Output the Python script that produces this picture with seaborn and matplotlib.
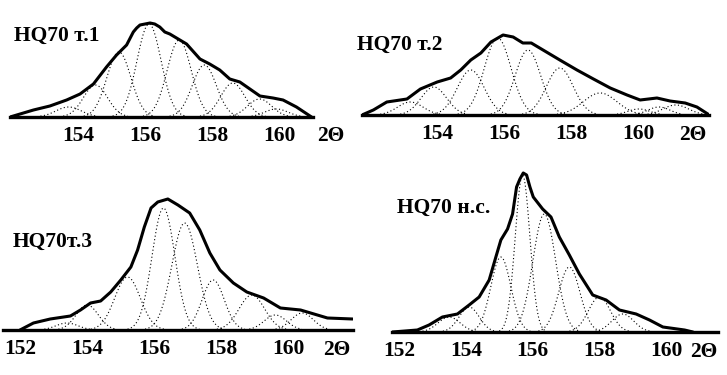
import numpy as np
import pandas as pd
import matplotlib
matplotlib.use("Agg")
import matplotlib.pyplot as plt
import seaborn as sns

# ---------- data, intensity in arbitrary units ----------
# panel 1: HQ70 т.1
p1_x = [151.95, 152.25, 152.65, 153.14, 153.64, 154.04, 154.44, 154.83, 155.13, 155.43,
        155.63, 155.73, 155.83, 155.98, 156.13, 156.27, 156.42, 156.57, 156.72, 156.92,
        157.22, 157.62, 157.91, 158.21, 158.51, 158.81, 159.11, 159.41, 159.80, 160.10,
        160.50, 160.95]
p1_y = [0, 3, 7, 11, 17, 23, 33, 50, 62, 72, 85, 89, 92, 93, 94, 93, 90, 85, 83, 79,
        73, 58, 53, 47, 38, 35, 28, 21, 19, 17, 10, 0]
p1_c = [153.7, 154.5, 155.2, 156.1, 157.0, 157.75, 158.6, 159.4, 159.9]
p1_h = [10, 32, 65, 93, 77, 52, 34, 18, 8]
p1_w = [0.38, 0.36, 0.36, 0.36, 0.36, 0.36, 0.36, 0.36, 0.35]

# panel 2: HQ70 т.2
p2_x = [151.76, 152.1, 152.5, 153.1, 153.5, 154.0, 154.4, 154.7, 155.0, 155.3,
        155.6, 155.96, 156.26, 156.55, 156.8, 157.15, 157.65, 158.16, 158.65, 159.15,
        159.65, 160.04, 160.54, 160.93, 161.38, 161.73, 162.1]
p2_y = [0, 5, 13, 16, 26, 33, 37, 45, 55, 62, 73, 80, 78, 72, 72, 65, 55, 45, 36, 27,
        20, 15, 17, 14, 12, 8, 0]
p2_c = [153.2, 153.9, 155.0, 155.8, 156.7, 157.65, 158.85, 160.0, 160.6, 161.1]
p2_h = [13, 28, 45, 77, 65, 47, 22, 6, 8, 10]
p2_w = [0.38, 0.38, 0.4, 0.4, 0.38, 0.4, 0.5, 0.33, 0.33, 0.38]

# panel 3: HQ70т.3
p3_x = [152.0, 152.4, 152.9, 153.5, 153.8, 154.1, 154.4, 154.7, 155.0, 155.3,
        155.5, 155.7, 155.9, 156.1, 156.4, 156.7, 157.05, 157.35, 157.65, 157.95,
        158.35, 158.75, 159.25, 159.75, 160.35, 160.85, 161.15, 161.9]
p3_y = [0, 7, 11, 14, 20, 27, 29, 38, 50, 63, 80, 103, 122, 128, 131, 125, 117, 100,
        77, 60, 47, 38, 32, 22, 20, 15, 12, 11]
p3_c = [153.4, 154.0, 155.2, 156.27, 156.9, 157.75, 158.9, 159.6, 160.4]
p3_h = [7, 25, 53, 122, 107, 50, 35, 15, 17]
p3_w = [0.33, 0.33, 0.38, 0.34, 0.38, 0.33, 0.38, 0.33, 0.33]

# panel 4: HQ70 н.с.
p4_x = [151.8, 152.55, 152.9, 153.3, 153.75, 154.1, 154.4, 154.7, 154.9, 155.05,
        155.25, 155.4, 155.52, 155.62, 155.72, 155.82, 155.92, 156.02, 156.3, 156.55,
        156.8, 157.1, 157.4, 157.8, 158.2, 158.6, 159.1, 159.5, 159.9, 160.55, 160.8]
p4_y = [0, 2, 7, 15, 18, 27, 35, 52, 75, 92, 103, 118, 145, 153, 159, 157, 145, 135,
        123, 115, 95, 77, 58, 37, 32, 22, 18, 12, 5, 2, 0]
p4_c = [153.5, 154.1, 155.05, 155.7, 156.35, 157.1, 158.0, 158.7]
p4_h = [15, 25, 75, 157, 118, 65, 35, 18]
p4_w = [0.33, 0.3, 0.3, 0.22, 0.34, 0.32, 0.33, 0.33]

labels = ["HQ70 т.1", "HQ70 т.2", "HQ70т.3", "HQ70 н.с."]

# ---------- layout in pixels ----------
W, H = 727, 375
panels = [
    dict(x=p1_x, y=p1_y, c=p1_c, h=p1_h, w=p1_w, lo=151.95, hi=161.0, x152=11.7, ppu=33.5,
         base=117, top=100, lab=(14, 36), tly=136, theta=331, ticklab=[154, 156, 158, 160]),
    dict(x=p2_x, y=p2_y, c=p2_c, h=p2_h, w=p2_w, lo=151.76, hi=162.1, x152=370, ppu=33.6,
         base=115, top=100, lab=(357, 45), tly=135, theta=693, ticklab=[154, 156, 158, 160]),
    dict(x=p3_x, y=p3_y, c=p3_c, h=p3_h, w=p3_w, lo=151.5, hi=161.9, x152=20, ppu=33.6,
         base=330, top=140, lab=(13, 242), tly=350, theta=337, ticklab=[152, 154, 156, 158, 160]),
    dict(x=p4_x, y=p4_y, c=p4_c, h=p4_h, w=p4_w, lo=151.8, hi=161.55, x152=399, ppu=33.4,
         base=332, top=170, lab=(397, 208), tly=352, theta=704, ticklab=[152, 154, 156, 158, 160]),
]

sns.set_style("white")
plt.rcParams["font.family"] = ["Liberation Serif", "DejaVu Serif"]
plt.rcParams["font.weight"] = "bold"
plt.rcParams["text.color"] = "black"
plt.rcParams["xtick.color"] = "black"
plt.rcParams["xtick.labelcolor"] = "black"

fig = plt.figure(figsize=(W / 100, H / 100), dpi=100)

for p, lab in zip(panels, labels):
    left = p["x152"] + (p["lo"] - 152) * p["ppu"]
    width = (p["hi"] - p["lo"]) * p["ppu"]
    ax = fig.add_axes([left / W, 1 - p["base"] / H, width / W, p["top"] / H])

    # component peaks (dotted)
    xs = np.linspace(p["lo"], p["hi"], 400)
    for c, h, w in zip(p["c"], p["h"], p["w"]):
        comp = pd.DataFrame({"x": xs, "y": h * np.exp(-0.5 * ((xs - c) / w) ** 2)})
        comp = comp[comp["y"] > 0.8]
        sns.lineplot(data=comp, x="x", y="y", ax=ax, color="black", lw=0.8,
                     linestyle=(0, (1, 2.2)), sort=True)

    # measured profile
    env = pd.DataFrame({"x": p["x"], "y": p["y"]})
    sns.lineplot(data=env, x="x", y="y", ax=ax, color="black", lw=2.2, sort=True)

    ax.set_xlim(p["lo"], p["hi"])
    ax.set_ylim(0, p["top"])
    ax.set_xlabel("")
    ax.set_ylabel("")
    ax.set_yticks([])
    for s in ["left", "top", "right"]:
        ax.spines[s].set_visible(False)
    ax.spines["bottom"].set_linewidth(2.4)
    ax.spines["bottom"].set_color("black")
    ax.patch.set_alpha(0)

    ticks = [t for t in range(152, 163) if p["lo"] - 0.05 <= t <= p["hi"] + 0.05]
    ax.set_xticks(ticks)
    ax.set_xticklabels([str(t) if t in p["ticklab"] else "" for t in ticks],
                       fontsize=15.5, fontweight="bold", color="black")
    ax.tick_params(axis="x", direction="out", length=4, width=1.3, pad=2.5, colors="black")

    fig.text(p["lab"][0] / W, 1 - p["lab"][1] / H, lab, fontsize=15.5, fontweight="bold",
             ha="left", va="center", color="black")
    fig.text(p["theta"] / W, 1 - p["tly"] / H, "2Θ", fontsize=15.5, fontweight="bold",
             ha="center", va="center", color="black")

fig.savefig("out.png", dpi=100)
